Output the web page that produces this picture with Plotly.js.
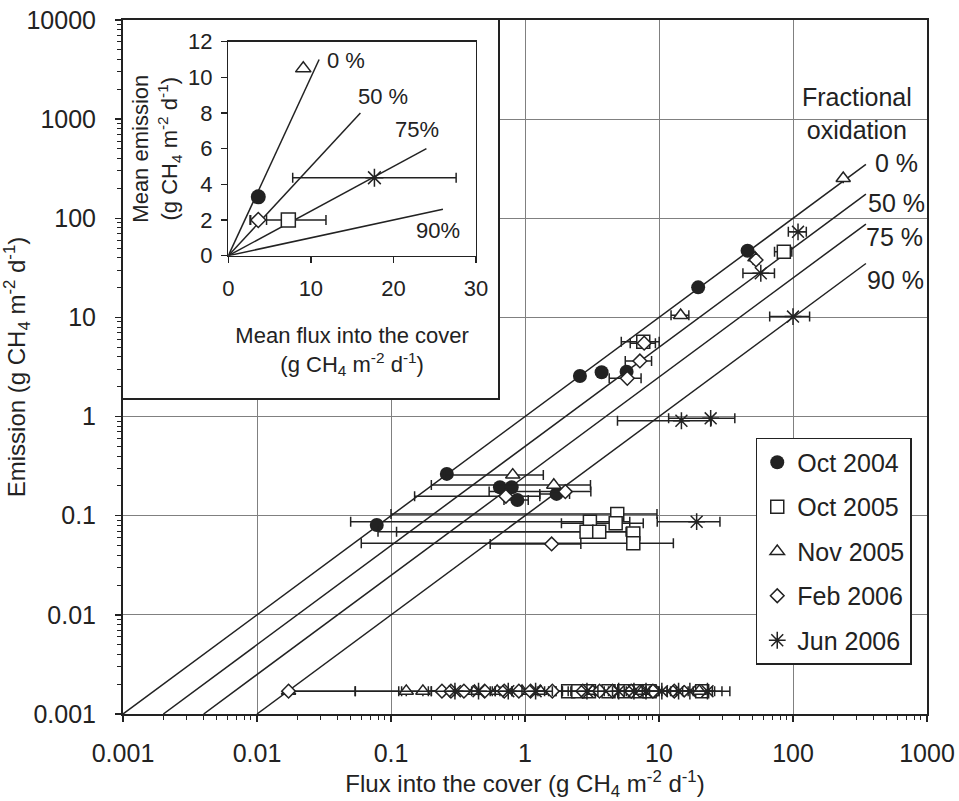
<!DOCTYPE html>
<html><head><meta charset="utf-8">
<script src="https://cdn.plot.ly/plotly-3.0.1.min.js"></script>
<style>html,body{margin:0;padding:0;background:#fff}</style>
</head><body><div id="chart" style="width:959px;height:801px"></div>
<script>
// ---------- main plot data ----------
const seriesNames = ['Oct 2004', 'Oct 2005', 'Nov 2005', 'Feb 2006', 'Jun 2006'];

const oct04Flux = [45.8, 19.6, 2.57, 3.73, 5.73, 0.261, 0.65, 0.796, 0.877, 1.72, 0.0783];
const oct04Emis = [47, 20.1, 2.57, 2.80, 2.84, 0.264, 0.194, 0.194, 0.144, 0.166, 0.0805];
const oct04ErrHi = [0, 0, 0, 0, 0, 0, 0, 0, 0.18, 0.43, 0];
const oct04ErrLo = [0, 0, 0, 0, 0, 0, 0, 0, 0.18, 0.43, 0];

const oct05Flux = [85.4, 7.63, 4.88, 3.05, 4.75, 2.88, 3.58, 6.43, 6.43, 2.1, 2.5, 3.0, 4.2, 5.5, 7.0, 8.5, 21];
const oct05Emis = [46, 5.69, 0.104, 0.087, 0.084, 0.069, 0.069, 0.066, 0.0527, 0.0017, 0.0017, 0.0017, 0.0017, 0.0017, 0.0017, 0.0017, 0.0017];
const oct05ErrHi = [12.6, 2.4, 4.78, 3.0, 2.88, 2.8, 3.47, 0.6, 6.37, 0.6, 0.8, 1, 1.5, 2, 2.5, 3, 8.5];
const oct05ErrLo = [12.6, 2.4, 4.78, 3.0, 2.88, 2.8, 3.47, 0.6, 6.37, 0.6, 0.8, 1, 1.5, 2, 2.5, 3, 8.5];

const nov05Flux = [237, 52, 14.5, 0.81, 1.64, 0.0172, 0.13, 0.173, 0.42, 0.62, 0.95, 1.3, 3.2, 7.5, 20];
const nov05Emis = [253, 40, 10.5, 0.258, 0.204, 0.0017, 0.0017, 0.0017, 0.0017, 0.0017, 0.0017, 0.0017, 0.0017, 0.0017, 0.0017];
const nov05ErrHi = [0, 0, 2.2, 0.56, 1.44, 0.097, 0, 0, 0.15, 0.5, 0.3, 0.4, 1.0, 2.5, 5];
const nov05ErrLo = [0, 0, 2.2, 0.56, 1.44, 0, 0, 0, 0.15, 0.5, 0.3, 0.4, 1.0, 2.5, 5];

const feb06Flux = [53, 7.75, 7.2, 5.8, 2.0, 0.72, 1.58, 0.0172, 0.24, 0.28, 0.35, 0.5, 0.7, 0.9, 1.1, 1.6, 2.7, 3.6, 4.5, 6.2, 9.0, 13];
const feb06Emis = [38, 5.5, 3.64, 2.43, 0.175, 0.157, 0.0519, 0.0017, 0.0017, 0.0017, 0.0017, 0.0017, 0.0017, 0.0017, 0.0017, 0.0017, 0.0017, 0.0017, 0.0017, 0.0017, 0.0017, 0.0017];
const feb06ErrHi = [2.6, 1.65, 1.6, 1.55, 1.1, 0.57, 1.03, 0.037, 0.05, 0.08, 0.1, 0.446, 0.2, 0.3, 0.3, 0.5, 0.8, 1.0, 1.2, 1.8, 2.5, 3.5];
const feb06ErrLo = [2.6, 1.65, 1.6, 1.55, 1.46, 0.57, 1.03, 0, 0.05, 0.08, 0.1, 0.446, 0.2, 0.3, 0.3, 0.5, 0.8, 1.0, 1.2, 1.8, 2.5, 3.5];

const jun06Flux = [109, 57.5, 100, 14.7, 24.3, 19.1, 0.3, 0.45, 0.75, 1.2, 2.9, 5.0, 6.5, 8.0, 10.5, 14, 17, 23];
const jun06Emis = [73, 27.9, 10.2, 0.908, 0.96, 0.087, 0.0017, 0.0017, 0.0017, 0.0017, 0.0017, 0.0017, 0.0017, 0.0017, 0.0017, 0.0017, 0.0017, 0.0017];
const jun06ErrHi = [16.7, 15.2, 33, 9.8, 12.5, 9.4, 0.1, 0.15, 0.2, 0.4, 1, 1.5, 2, 2.5, 3, 4, 9, 10.8];
const jun06ErrLo = [16.7, 15.2, 33, 9.8, 12.5, 9.4, 0.1, 0.15, 0.2, 0.4, 1, 1.5, 2, 2.5, 3, 4, 9, 10.8];

// fractional oxidation reference lines (emission = (1 - f) * flux)
const oxFractions = [0, 0.5, 0.75, 0.9];
const mainLineLabels = ['0 %', '50 %', '75 %', '90 %'];
const mainLineXEnd = 350;
const axisMin = 0.001;

// ---------- inset data (means) ----------
const meanFlux = [3.63, 7.27, 9.08, 3.63, 17.7];
const meanEmission = [3.3, 2.0, 10.5, 2.0, 4.37];
const meanFluxErr = [0, 4.56, 0, 1.0, 9.9];
const insetLineXEnd = [11, 16, 24, 26];
const insetLineLabels = ['0 %', '50 %', '75%', '90%'];

// ---------- styles ----------
const ink = '#222';
const markerStyles = [
  {symbol: 'circle', color: ink, size: 14, line: {width: 0}},
  {symbol: 'square', color: 'white', size: 13, line: {color: ink, width: 1.5}},
  {symbol: 'triangle-up', color: 'white', size: 12.5, line: {color: ink, width: 1.5}},
  {symbol: 'diamond', color: 'white', size: 10.5, line: {color: ink, width: 1.5}},
  {symbol: 'asterisk-open', color: ink, size: 14, line: {color: ink, width: 1.5}}
];
const seriesData = [
  [oct04Flux, oct04Emis, oct04ErrHi, oct04ErrLo],
  [oct05Flux, oct05Emis, oct05ErrHi, oct05ErrLo],
  [nov05Flux, nov05Emis, nov05ErrHi, nov05ErrLo],
  [feb06Flux, feb06Emis, feb06ErrHi, feb06ErrLo],
  [jun06Flux, jun06Emis, jun06ErrHi, jun06ErrLo]
];

const traces = [];
// main reference lines
oxFractions.forEach(f => {
  const x0 = axisMin / (1 - f);
  traces.push({x: [x0, mainLineXEnd], y: [(1 - f) * x0, (1 - f) * mainLineXEnd], mode: 'lines',
    line: {color: ink, width: 1.5}, showlegend: false, hoverinfo: 'skip', xaxis: 'x', yaxis: 'y'});
});
// main series
seriesData.forEach((d, i) => {
  traces.push({x: d[0], y: d[1], mode: 'markers', name: seriesNames[i], legendgroup: 'g' + i,
    marker: markerStyles[i],
    error_x: {type: 'data', symmetric: false, array: d[2], arrayminus: d[3], color: ink, thickness: 1.5, width: 5},
    xaxis: 'x', yaxis: 'y'});
});
// mask subplot (white box behind the inset)
traces.push({x: [], y: [], xaxis: 'x2', yaxis: 'y2', showlegend: false, hoverinfo: 'skip'});
// inset lines
oxFractions.forEach((f, i) => {
  traces.push({x: [0, insetLineXEnd[i]], y: [0, (1 - f) * insetLineXEnd[i]], mode: 'lines',
    line: {color: ink, width: 1.5}, showlegend: false, hoverinfo: 'skip', xaxis: 'x3', yaxis: 'y3'});
});
// inset means
seriesNames.forEach((n, i) => {
  traces.push({x: [meanFlux[i]], y: [meanEmission[i]], mode: 'markers', name: n, showlegend: false,
    marker: Object.assign({}, markerStyles[i], {size: markerStyles[i].size + 1}),
    error_x: {type: 'data', array: [meanFluxErr[i]], color: ink, thickness: 1.5, width: 5, visible: meanFluxErr[i] > 0},
    xaxis: 'x3', yaxis: 'y3', cliponaxis: false});
});

const unitsHTML = '(g CH<sub>4</sub> m<sup>-2</sup> d<sup>-1</sup>)';
const fontFam = 'Liberation Sans, Arial, Helvetica, sans-serif';

const logAxis = (range, title, standoff) => ({
  type: 'log', range: range, dtick: 1, exponentformat: 'none',
  showgrid: true, gridcolor: '#808080', gridwidth: 1, zeroline: false,
  showline: true, linecolor: ink, linewidth: 2, mirror: true,
  ticks: 'outside', ticklen: 6, tickwidth: 1.5, tickcolor: ink,
  minor: {ticks: 'outside', ticklen: 4, tickwidth: 1, tickcolor: ink, dtick: 'D1', showgrid: false},
  tickfont: {size: 25, color: ink},
  title: {text: title, font: {size: 24, color: ink}, standoff: standoff}
});

const layout = {
  width: 959, height: 801,
  margin: {l: 123, r: 32, t: 20, b: 87},
  paper_bgcolor: 'white', plot_bgcolor: 'white',
  separators: '.',
  font: {family: fontFam, size: 22, color: ink},
  showlegend: true,
  legend: {x: 0.787, y: 0.3977, xanchor: 'left', yanchor: 'top', bgcolor: 'white',
    bordercolor: ink, borderwidth: 1.5, font: {size: 25, color: ink}, tracegroupgap: 9, traceorder: 'grouped'},
  xaxis: Object.assign(logAxis([-3, 3], 'Flux into the cover ' + unitsHTML, 6), {domain: [0, 1], anchor: 'y', ticklabelstandoff: 10}),
  yaxis: Object.assign(logAxis([-3, 4], 'Emission ' + unitsHTML, 30), {domain: [0, 1], anchor: 'x', ticklabelstandoff: 14}),
  xaxis2: {domain: [0, 0.4664], anchor: 'y2', range: [0, 1], showline: true, mirror: true, linecolor: ink, linewidth: 2,
    showgrid: false, zeroline: false, showticklabels: false, ticks: ''},
  yaxis2: {domain: [0.4553, 1], anchor: 'x2', range: [0, 1], showline: true, mirror: true, linecolor: ink, linewidth: 2,
    showgrid: false, zeroline: false, showticklabels: false, ticks: ''},
  xaxis3: {domain: [0.131, 0.439], anchor: 'y3', range: [0, 30], dtick: 10, showgrid: false, zeroline: false,
    showline: true, mirror: true, linecolor: ink, linewidth: 1.5, ticks: 'outside', ticklen: 6, tickwidth: 1.5, tickcolor: ink,
    ticklabelstandoff: 6,
    tickfont: {size: 22}, title: {text: 'Mean flux into the cover<br>' + unitsHTML, font: {size: 22}, standoff: 28}},
  yaxis3: {domain: [0.6604, 0.9687], anchor: 'x3', range: [0, 12], dtick: 2, showgrid: false, zeroline: false,
    showline: true, mirror: true, linecolor: ink, linewidth: 1.5, ticks: 'outside', ticklen: 6, tickwidth: 1.5, tickcolor: ink,
    ticklabelstandoff: 4,
    tickfont: {size: 22}, title: {text: 'Mean emission<br>' + unitsHTML, font: {size: 22}, standoff: 4}},
  annotations: [
    {xref: 'paper', yref: 'paper', x: 0.913, y: 0.8646, text: 'Fractional<br>oxidation', showarrow: false,
      xanchor: 'center', yanchor: 'middle', align: 'center', font: {size: 25}},
    {xref: 'paper', yref: 'paper', x: 0.9328, y: 0.794, text: mainLineLabels[0], showarrow: false, xanchor: 'left', yanchor: 'middle', font: {size: 25}},
    {xref: 'paper', yref: 'paper', x: 0.9241, y: 0.7363, text: mainLineLabels[1], showarrow: false, xanchor: 'left', yanchor: 'middle', font: {size: 25}},
    {xref: 'paper', yref: 'paper', x: 0.9216, y: 0.6873, text: mainLineLabels[2], showarrow: false, xanchor: 'left', yanchor: 'middle', font: {size: 25}},
    {xref: 'paper', yref: 'paper', x: 0.9229, y: 0.6254, text: mainLineLabels[3], showarrow: false, xanchor: 'left', yanchor: 'middle', font: {size: 25}},
    {xref: 'x3', yref: 'y3', x: 14.25, y: 10.97, text: insetLineLabels[0], showarrow: false, font: {size: 22}},
    {xref: 'x3', yref: 'y3', x: 18.7, y: 8.9, text: insetLineLabels[1], showarrow: false, font: {size: 22}},
    {xref: 'x3', yref: 'y3', x: 22.8, y: 7.1, text: insetLineLabels[2], showarrow: false, font: {size: 22}},
    {xref: 'x3', yref: 'y3', x: 25.35, y: 1.39, text: insetLineLabels[3], showarrow: false, font: {size: 22}}
  ]
};

Plotly.newPlot('chart', traces, layout, {staticPlot: true, displayModeBar: false});
</script>
</body></html>
